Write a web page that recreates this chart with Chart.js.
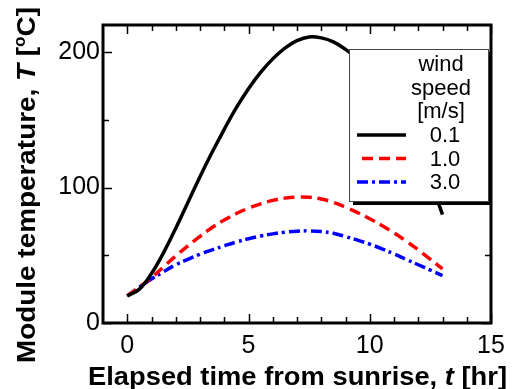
<!DOCTYPE html>
<html>
<head>
<meta charset="utf-8">
<script src="https://cdn.jsdelivr.net/npm/chart.js@4.4.1/dist/chart.umd.min.js"></script>
<style>
  html, body { margin: 0; padding: 0; background: #fff; }
  canvas { display: block; }
</style>
</head>
<body>
<canvas id="chart" width="515" height="389"></canvas>
<script>
// elapsed time [hr]
const hours = [0, 0.5, 1, 1.5, 2, 2.5, 3, 3.5, 4, 4.5, 5, 5.5, 6, 6.5, 7, 7.5, 8, 8.5, 9, 9.5, 10, 10.5, 11, 11.5, 12, 12.5, 13];
// module temperature [C] for each wind speed
const temp01 = [20, 25, 36.5, 52, 70, 89, 108, 126, 143, 159, 173, 185, 195, 203, 208.5, 211.2, 210.5, 207.5, 202, 195, 186, 175, 162, 146, 127, 105, 80];
const temp10 = [20, 26.5, 33.5, 41.5, 49.5, 57, 64, 70.5, 76, 80.8, 84.8, 88, 90.5, 92.2, 93, 92.8, 91.5, 89, 85.5, 81.5, 77, 72, 66.5, 60.5, 54, 47, 40];
const temp30 = [20, 26.5, 32.5, 37.8, 43, 47, 50.8, 54, 57, 59.8, 62.2, 64.2, 65.8, 67, 67.8, 68, 67.5, 66.2, 63.8, 61.2, 58.2, 54.8, 51, 47, 43, 39, 35];
const windLabels = ['0.1', '1.0', '3.0'];
const xTicks = [0, 5, 10, 15];
const yTicks = [0, 100, 200];

const FONT = '"Liberation Sans", Arial, sans-serif';

function pts(ys) { return hours.map((h, i) => ({ x: h, y: ys[i] })); }

// frame, inward ticks on all four sides, titles and boxed legend
const decor = {
  id: 'decor',
  afterDatasetsDraw(chart) {
    const ctx = chart.ctx;
    const a = chart.chartArea;
    const xs = chart.scales.x, ys = chart.scales.y;
    ctx.save();
    ctx.strokeStyle = '#000';
    ctx.lineWidth = 1.5;
    ctx.beginPath();
    for (let v = 0; v <= 15; v++) {
      const px = Math.round(xs.getPixelForValue(v)) + 0.5;
      const len = v % 5 === 0 ? 9 : 6;
      ctx.moveTo(px, a.bottom); ctx.lineTo(px, a.bottom - len);
      ctx.moveTo(px, a.top); ctx.lineTo(px, a.top + len);
    }
    for (let v = 0; v <= 200; v += 50) {
      const py = Math.round(ys.getPixelForValue(v)) + 0.5;
      const len = v % 100 === 0 ? 9 : 6;
      ctx.moveTo(a.left, py); ctx.lineTo(a.left + len, py);
      ctx.moveTo(a.right, py); ctx.lineTo(a.right - len, py);
    }
    ctx.stroke();
    ctx.lineWidth = 3;
    ctx.strokeRect(a.left, a.top, a.right - a.left, a.bottom - a.top);

    // legend
    const lx = 349, ly = 49, lw = 139, lh = 152;
    ctx.fillStyle = '#000';
    ctx.fillRect(lx + 4, ly + 4, lw, lh);
    ctx.fillStyle = '#fff';
    ctx.fillRect(lx, ly, lw, lh);
    ctx.lineWidth = 1;
    ctx.strokeStyle = '#444';
    ctx.strokeRect(lx + 0.5, ly + 0.5, lw, lh);
    ctx.fillStyle = '#000';
    ctx.font = '22px ' + FONT;
    ctx.textAlign = 'center';
    ctx.textBaseline = 'middle';
    ctx.fillText('wind', 441, 65);
    ctx.fillText('speed', 441, 89);
    ctx.fillText('[m/s]', 441, 112);
    chart.data.datasets.forEach((ds, i) => {
      const yy = 135 + i * 23.5;
      ctx.save();
      ctx.strokeStyle = ds.borderColor;
      ctx.lineWidth = 3.5;
      ctx.setLineDash(ds.borderDash || []);
      ctx.beginPath();
      ctx.moveTo(ds.borderDash && ds.borderDash.length === 2 ? 362 : 357, yy);
      ctx.lineTo(406, yy);
      ctx.stroke();
      ctx.restore();
      ctx.fillText(windLabels[i], 445, yy + 1);
    });

    // axis titles
    ctx.textAlign = 'left';
    ctx.textBaseline = 'alphabetic';
    drawRich(ctx, [
      ['bold', 'Elapsed time from sunrise, '], ['italic bold', 't'], ['bold', ' [hr]']
    ], 88, 385, 419, 26);
    ctx.translate(35, 363);
    ctx.rotate(-Math.PI / 2);
    drawRich(ctx, [
      ['bold', 'Module temperature, '], ['italic bold', 'T'], ['bold', ' ['],
      ['sup', 'o'], ['bold', 'C]']
    ], 0, 0, 356, 26);
    ctx.restore();
  }
};

function drawRich(ctx, parts, x, y, width, size) {
  const fontOf = (s) => s === 'sup' ? 'bold ' + Math.round(size * 0.6) + 'px ' + FONT : s + ' ' + size + 'px ' + FONT;
  let total = 0;
  parts.forEach(p => { ctx.font = fontOf(p[0]); total += ctx.measureText(p[1]).width; });
  const k = width / total;
  ctx.save();
  ctx.translate(x, y);
  ctx.scale(k, 1);
  let cx = 0;
  parts.forEach(p => {
    ctx.font = fontOf(p[0]);
    ctx.fillText(p[1], cx, p[0] === 'sup' ? -size * 0.38 : 0);
    cx += ctx.measureText(p[1]).width;
  });
  ctx.restore();
}

new Chart(document.getElementById('chart'), {
  type: 'line',
  data: {
    datasets: [
      { label: windLabels[0], data: pts(temp01), borderColor: '#000000', borderWidth: 3.5 },
      { label: windLabels[1], data: pts(temp10), borderColor: '#ff0000', borderWidth: 3.5, borderDash: [11, 6] },
      { label: windLabels[2], data: pts(temp30), borderColor: '#0000ff', borderWidth: 3.5, borderDash: [11, 4, 3, 4] }
    ]
  },
  options: {
    responsive: false,
    animation: false,
    layout: { padding: { left: 0, right: 24, top: 25, bottom: 0 } },
    elements: {
      point: { radius: 0 },
      line: { tension: 0.4, fill: false, borderCapStyle: 'butt' }
    },
    plugins: { legend: { display: false }, tooltip: { enabled: false } },
    scales: {
      x: {
        type: 'linear', min: -1, max: 15,
        afterBuildTicks: s => { s.ticks = xTicks.map(v => ({ value: v })); },
        afterFit: s => { s.height = 66; },
        grid: { display: false, drawTicks: false },
        border: { display: false },
        ticks: { color: '#000', font: { family: FONT, size: 25 }, padding: 8, maxRotation: 0 }
      },
      y: {
        type: 'linear', min: 0, max: 220,
        afterBuildTicks: s => { s.ticks = yTicks.map(v => ({ value: v })); },
        afterFit: s => { s.width = 103; },
        grid: { display: false, drawTicks: false },
        border: { display: false },
        ticks: { color: '#000', font: { family: FONT, size: 25 }, padding: 3 }
      }
    }
  },
  plugins: [decor]
});
</script>
</body>
</html>
